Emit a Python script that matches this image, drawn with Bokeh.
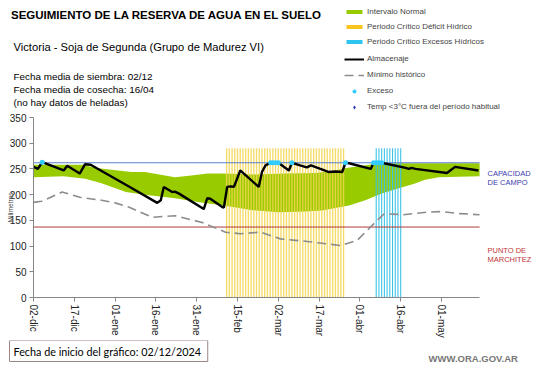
import math
from bokeh.plotting import figure
from bokeh.layouts import column
from bokeh.models import Range1d, Label, Legend, LegendItem, FixedTicker
from bokeh.embed import file_html
from bokeh.resources import INLINE

# ---------------- data (day 0 = 02/12/2024) ----------------
tick_days = [0, 15, 30, 45, 60, 75, 90, 105, 120, 135, 150]
tick_labels = ["02-dic", "17-dic", "01-ene", "16-ene", "31-ene", "15-feb",
               "02-mar", "17-mar", "01-abr", "16-abr", "01-may"]
y_ticks = [0, 50, 100, 150, 200, 250, 300, 350]
x_end = 164

capacidad_campo = 262
punto_marchitez = 137

# Intervalo normal (upper and lower limits)
upper_days = [0, 18, 23, 36, 41, 52, 58, 64, 70, 81, 93, 104, 111, 115, 122, 128, 164]
upper_vals = [258, 258, 252, 244, 244, 234, 237, 241, 241, 239, 241, 242, 247, 252, 257, 261, 261]
lower_days = [0, 11, 19, 25, 34, 41, 52, 61, 70, 80, 90, 100, 106, 116, 122, 128, 134, 140, 144, 149, 164]
lower_vals = [234, 236, 231, 222, 205, 200, 193, 185, 179, 170, 166, 167, 169, 179, 189, 202, 212, 221, 229, 234, 236]

# Mínimo histórico
min_days = [0, 3, 10.5, 17, 25, 30, 35, 43.6, 52, 62, 70.6, 76, 83.5, 90.8, 100.6, 113, 119, 126.4, 129, 136, 145, 150, 157, 164]
min_vals = [185, 187, 205, 195, 189, 184, 176, 156, 159, 146, 127, 124, 127, 114, 109, 101, 111, 150, 163, 161, 166, 167, 163, 161]

# Almacenaje
alm_days = [0, 1.6, 3.2, 11.1, 12.4, 17, 18.9, 21, 35.4, 45.5, 46.8, 47.9, 51, 52, 53.5, 62.6, 63.9,
            65, 69.4, 70, 71.2, 72.5, 73.7, 76, 82.8, 84, 85.3, 87.2, 90, 93.9, 95, 98, 100.5, 102,
            105.5, 108.6, 111, 113.5, 114.7, 116, 124, 125, 128, 136.8, 138, 139, 140.4, 152, 155, 163.6]
alm_vals = [254, 250, 263, 247, 256, 241, 259, 258, 215, 184, 189, 215, 205, 206, 202, 172, 193,
            192, 176, 175, 215, 216, 215, 247, 215, 244, 257, 262, 262, 247, 262, 257, 253, 257,
            250, 244, 245, 244, 262, 261, 250, 262, 262, 252, 250, 252, 250, 242, 254, 247]

# Exceso
exceso_days = [3.2, 87.2, 88, 89, 90, 95, 114.7, 125, 126, 127, 128]
exceso_vals = [263, 262, 262, 262, 262, 262, 262, 262, 262, 262, 262]

# Periodos críticos
deficit_days = list(range(71, 115))
excess_period_days = list(range(126, 136))
period_top = 290

FONT = "Liberation Sans"
W = 541
NAN = float("nan")
OFF = 4  # blank figures: label origin sits this much below the canvas bottom


def blank_fig(h):
    f = figure(width=W, height=h, output_backend="svg", toolbar_location=None,
               x_range=Range1d(0, W), y_range=Range1d(0, h),
               x_axis_location=None, y_axis_location=None, frame_align=False,
               min_border=0, min_border_left=0, min_border_right=0,
               min_border_top=0, min_border_bottom=0)
    f.outline_line_color = None
    f.grid.grid_line_color = None
    return f


def lab(f, text, x, y, size, color="black", bold=False, font=FONT, **kw):
    f.add_layout(Label(text=text, x=x, y=y, x_units="screen", y_units="screen",
                       text_font=font, text_font_size=size, text_color=color,
                       text_font_style="bold" if bold else "normal",
                       text_baseline=kw.pop("baseline", "alphabetic"), **kw))


# ---------------- header (page rows 0..112) ----------------
HH = 112
B = HH + OFF
head = blank_fig(HH)
lab(head, "SEGUIMIENTO DE LA RESERVA DE AGUA EN EL SUELO", 10.5, B - 18.3, "11.5px", bold=True)
lab(head, "Victoria - Soja de Segunda (Grupo de Madurez VI)", 13, B - 50, "11.2px")
lab(head, "Fecha media de siembra: 02/12", 13, B - 80, "9.9px")
lab(head, "Fecha media de cosecha: 16/04", 13, B - 93.3, "9.9px")
lab(head, "(no hay  datos de heladas)", 13, B - 106.3, "9.9px")

leg_green = head.quad(left=[NAN], right=[NAN], top=[NAN], bottom=[NAN], fill_color="#99cc00", line_color=None)
leg_yellow = head.quad(left=[NAN], right=[NAN], top=[NAN], bottom=[NAN], fill_color="#f8c51c", line_color=None)
leg_cyan = head.quad(left=[NAN], right=[NAN], top=[NAN], bottom=[NAN], fill_color="#2ec4f0", line_color=None)
leg_black = head.line([NAN], [NAN], line_color="black", line_width=2)
leg_gray = head.line([NAN], [NAN], line_color="#8c8c8c", line_width=1.6, line_dash="9 5")
leg_exc = head.scatter([NAN], [NAN], color="#33ccff", line_color=None)
leg_temp = head.scatter([NAN], [NAN], marker="diamond", color="#2233aa", line_color=None)

common = dict(padding=0, margin=0, border_line_color=None, background_fill_alpha=0,
              label_text_font=FONT, label_text_font_size="8px",
              label_standoff=3, glyph_width=20, label_height=11)
legA = Legend(items=[LegendItem(label="Intervalo Normal", renderers=[leg_green]),
                     LegendItem(label="Periodo Crítico Déficit Hídrico", renderers=[leg_yellow]),
                     LegendItem(label="Periodo Crítico Excesos Hídricos", renderers=[leg_cyan])],
              location=(344, B - 50.9), glyph_height=5, spacing=4, **common)
legB = Legend(items=[LegendItem(label="Almacenaje", renderers=[leg_black]),
                     LegendItem(label="Mínimo histórico", renderers=[leg_gray]),
                     LegendItem(label="Exceso", renderers=[leg_exc]),
                     LegendItem(label="Temp <3°C fuera del período habitual", renderers=[leg_temp])],
              location=(344, B - 116), glyph_height=10, spacing=5, **common)
head.add_layout(legA)
head.add_layout(legB)

# ---------------- main chart (page rows 112..340, frame 117..297) ----------------
px_per_day = 2.72
left_border = 33
frame_w = W - left_border
p = figure(width=W, height=228, output_backend="svg", toolbar_location=None,
           x_range=Range1d(0, frame_w / px_per_day), y_range=Range1d(0, 350), frame_align=False,
           min_border_left=left_border, min_border_right=0, min_border_top=5, min_border_bottom=43)
p.outline_line_color = None
p.grid.grid_line_color = None

p.patch(upper_days + lower_days[::-1], upper_vals + lower_vals[::-1],
        fill_color="#99cc00", line_color=None)
p.vbar(x=deficit_days, top=period_top, bottom=0, width=0.5, fill_color="#f3d54e",
       line_color=None, fill_alpha=0.85)
p.vbar(x=excess_period_days, top=period_top, bottom=0, width=0.4, fill_color="#3cc3e6",
       line_color=None)
p.line([0, x_end], [capacidad_campo, capacidad_campo], line_color="#5a7fd0", line_width=1)
p.line([0, x_end], [punto_marchitez, punto_marchitez], line_color="#b03a3a", line_width=1)
p.line(min_days, min_vals, line_color="#8c8c8c", line_width=1.6, line_dash="9 5")
p.line(alm_days, alm_vals, line_color="black", line_width=2.4)
p.scatter(exceso_days, exceso_vals, size=5, color="#33ccff", line_color=None)

for ax in (p.xaxis[0], p.yaxis[0]):
    ax.axis_line_color = "#868686"
    ax.major_tick_line_color = "#868686"
    ax.minor_tick_line_color = None
    ax.major_tick_in = 0
    ax.major_tick_out = 4
    ax.major_label_text_font = FONT
    ax.major_label_text_font_size = "10px"
    ax.major_label_text_color = "#222222"
p.yaxis[0].ticker = FixedTicker(ticks=y_ticks)
p.yaxis[0].major_label_standoff = 3
p.yaxis[0].axis_label = "Milímetros"
p.yaxis[0].axis_label_text_font = FONT
p.yaxis[0].axis_label_text_font_size = "6.5px"
p.yaxis[0].axis_label_text_font_style = "normal"
p.yaxis[0].axis_label_standoff = -7
p.xaxis[0].ticker = FixedTicker(ticks=tick_days)
p.xaxis[0].bounds = (0, x_end)
p.xaxis[0].major_label_overrides = {d: l for d, l in zip(tick_days, tick_labels)}
p.xaxis[0].major_label_orientation = "vertical"
p.xaxis[0].major_label_standoff = 3

lab(p, "CAPACIDAD", 454, 124, "7.5px", color="#3b3bb0")
lab(p, "DE  CAMPO", 454, 115, "7.5px", color="#3b3bb0")
lab(p, "PUNTO  DE", 454, 47, "7.5px", color="#c03535")
lab(p, "MARCHITEZ", 454, 38.5, "7.5px", color="#c03535")

# ---------------- footer (page rows 340..367) ----------------
FH = 27
FB = FH + OFF
foot = blank_fig(FH)
foot.add_layout(Label(text="Fecha de inicio del gráfico:  02/12/2024", x=9, y=FB - 14.5,
                      x_units="screen", y_units="screen", text_font="Lato", text_font_size="10.8px",
                      text_color="black", text_baseline="middle",
                      border_line_color="#9b8585", border_line_width=1, padding=4))
lab(foot, "WWW.ORA.GOV.AR", 428, FB - 22, "9.5px", color="#777777", bold=True)

layout = column(head, p, foot, spacing=0)
open("out.html", "w").write(file_html(layout, INLINE))
